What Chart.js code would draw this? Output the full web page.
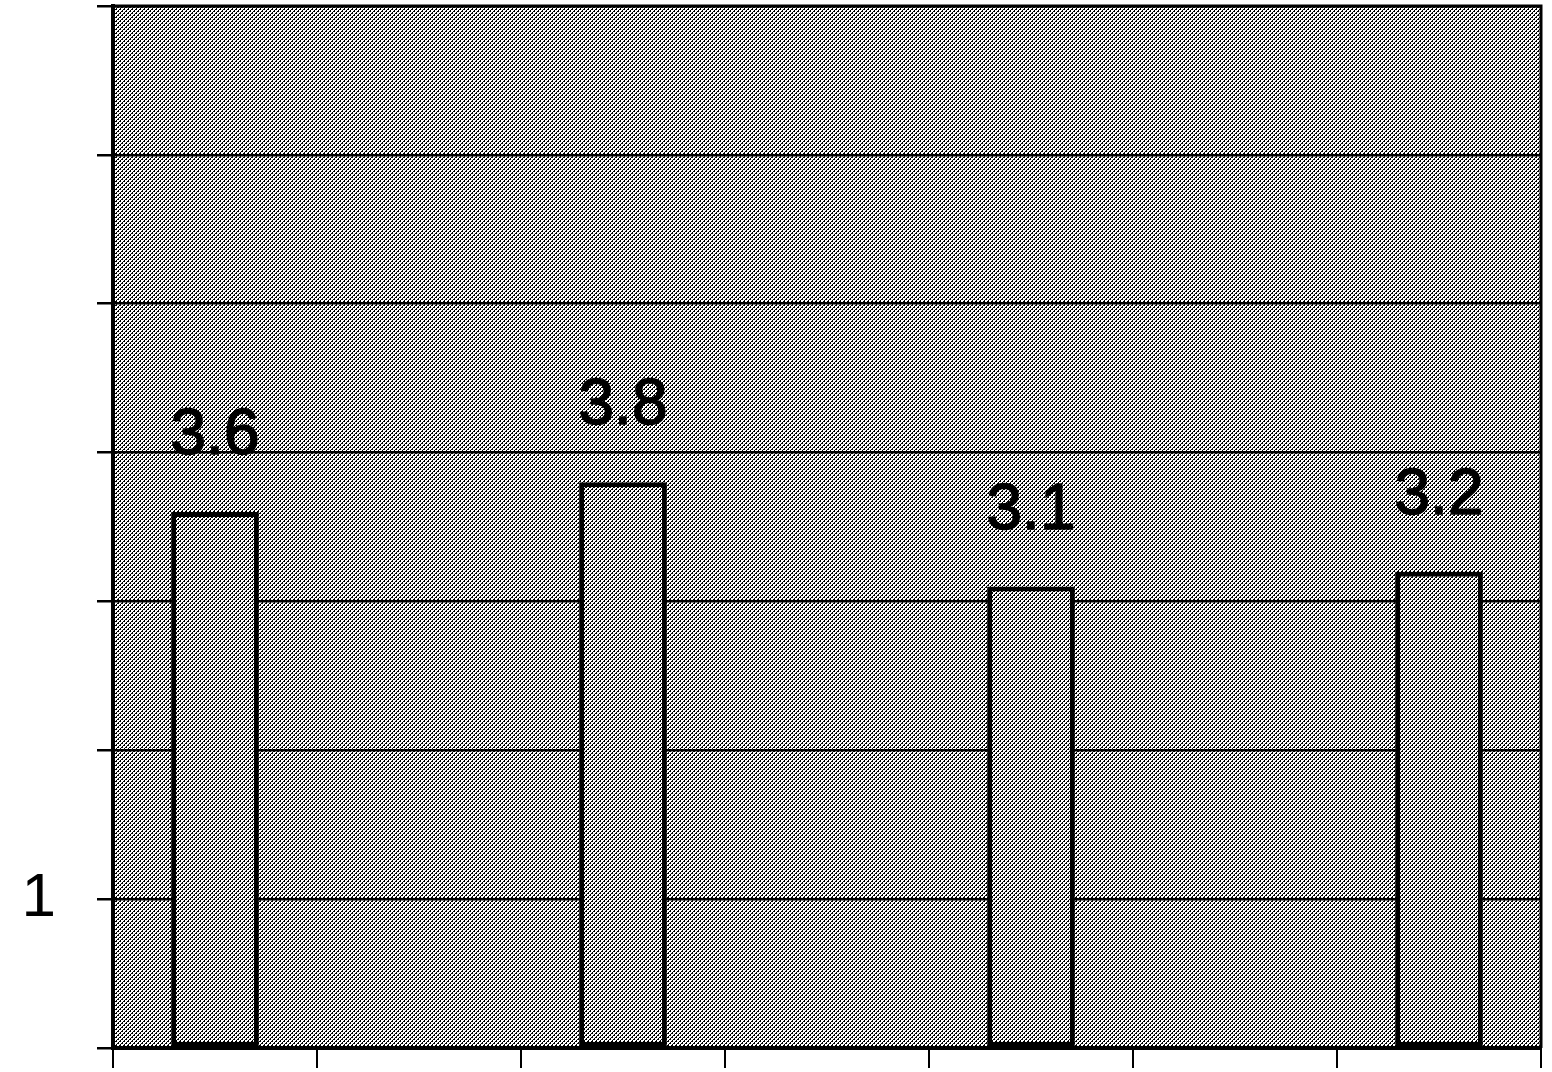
<!DOCTYPE html>
<html>
<head>
<meta charset="utf-8">
<script src="https://cdn.jsdelivr.net/npm/chart.js@4"></script>
<style>
  html, body { margin: 0; padding: 0; background: #fff; }
  #wrap { width: 1552px; height: 1072px; }
</style>
</head>
<body>
<div id="wrap"><canvas id="myChart" width="1552" height="1072"></canvas></div>
<script>
var categories = ["A", "", "B", "", "C", "", "D"];
var values = [3.6, null, 3.8, null, 3.1, null, 3.2];
var labelTexts = ["3.6", "", "3.8", "", "3.1", "", "3.2"];
var yTickLabels = {1: "1"}; // only "1" is printed on the axis

// halftone-ish dot pattern like the scanned picture
function makePattern(){
  var c = document.createElement("canvas");
  c.width = 4; c.height = 4;
  var g = c.getContext("2d");
  g.fillStyle = "#fff";
  g.fillRect(0, 0, 4, 4);
  g.fillStyle = "#000";
  for(var x = 0; x < 4; x++){
    for(var y = 0; y < 4; y++){
      if((x + y) % 4 == 0) g.fillRect(x, y, 1, 1);
      if((x + y) % 4 == 1 && x % 2 == 0) g.fillRect(x, y, 1, 1);
    }
  }
  return g.createPattern(c, "repeat");
}

var ctx = document.getElementById("myChart").getContext("2d");
var pat = makePattern();

// fills the plot area and draws the frame
var areaPlugin = {
  id: "area",
  beforeDraw: function(chart){
    var a = chart.chartArea, g = chart.ctx;
    g.save();
    g.fillStyle = pat;
    g.fillRect(a.left, a.top, a.right - a.left, a.bottom - a.top);
    g.restore();
  },
  afterDraw: function(chart){
    var a = chart.chartArea, g = chart.ctx;
    g.save();
    g.strokeStyle = "#000";
    g.lineWidth = 3;
    g.beginPath();
    g.moveTo(a.left, a.top);
    g.lineTo(a.right, a.top);
    g.lineTo(a.right, a.bottom);
    g.stroke();
    g.restore();
  }
};

// value labels above the bars
var labelPlugin = {
  id: "vals",
  afterDatasetsDraw: function(chart){
    var g = chart.ctx;
    var meta = chart.getDatasetMeta(0);
    g.save();
    g.font = "64px 'Liberation Sans', Arial, sans-serif";
    g.fillStyle = "#000";
    g.strokeStyle = "#000";
    g.lineWidth = 1.5;
    g.textAlign = "center";
    g.textBaseline = "alphabetic";
    meta.data.forEach(function(bar, i){
      if(values[i] == null) return;
      g.fillText(labelTexts[i], bar.x, bar.y - 58);
      g.strokeText(labelTexts[i], bar.x, bar.y - 58);
    });
    g.restore();
  }
};

new Chart(ctx, {
  type: "bar",
  data: {
    labels: categories,
    datasets: [{
      data: values,
      backgroundColor: pat,
      borderColor: "#000",
      borderWidth: 5,
      borderSkipped: false,
      barPercentage: 0.43,
      categoryPercentage: 1
    }]
  },
  options: {
    responsive: false,
    animation: false,
    layout: { padding: { top: 6, right: 11, left: 0, bottom: 0 } },
    plugins: { legend: { display: false }, tooltip: { enabled: false } },
    scales: {
      x: {
        offset: true,
        grid: { offset: true, drawOnChartArea: false, drawTicks: true, tickLength: 20, color: "#000", lineWidth: 2 },
        border: { color: "#000", width: 4 },
        ticks: { display: false },
        afterFit: function(s){ s.height = 24; s.paddingLeft = 0; s.paddingRight = 0; }
      },
      y: {
        min: 0,
        max: 7,
        ticks: {
          stepSize: 1,
          color: "#000",
          padding: 41,
          font: { family: "'Liberation Sans', Arial, sans-serif", size: 62 },
          callback: function(v){ return yTickLabels[v] || ""; }
        },
        grid: { color: "#000", lineWidth: 2.5, tickLength: 16 },
        border: { color: "#000", width: 4 },
        afterFit: function(s){ s.width = 113; s.paddingTop = 0; s.paddingBottom = 0; }
      }
    }
  },
  plugins: [areaPlugin, labelPlugin]
});
</script>
</body>
</html>
